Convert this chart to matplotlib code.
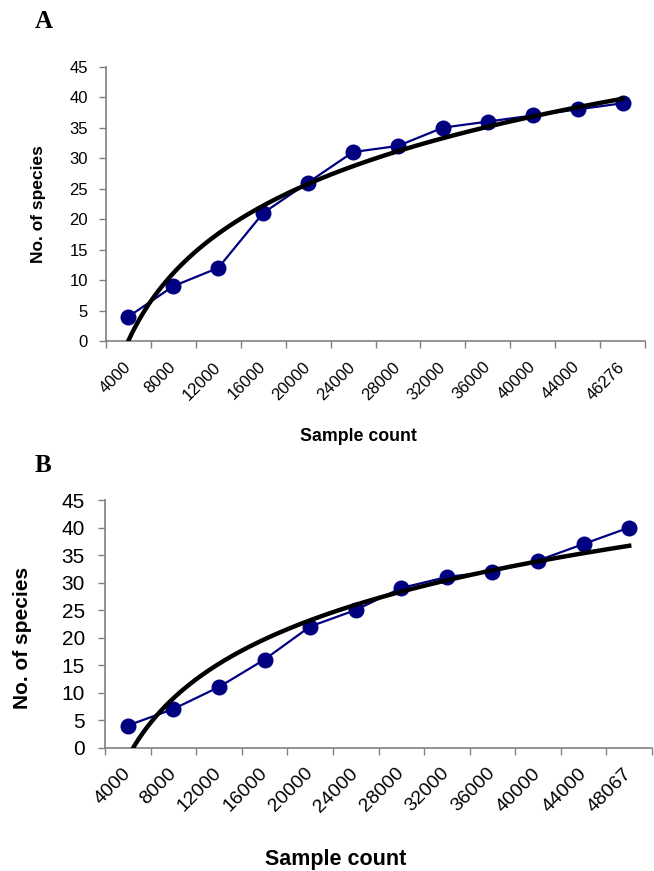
import numpy as np
import matplotlib
matplotlib.use('Agg')
import matplotlib.pyplot as plt

plt.rcParams['font.family'] = ['Liberation Sans', 'DejaVu Sans']

# sample counts (category labels) and species counts
labels_a = ['4000', '8000', '12000', '16000', '20000', '24000', '28000',
            '32000', '36000', '40000', '44000', '46276']
species_a = [4, 9, 12, 21, 26, 31, 32, 35, 36, 37, 38, 39]

labels_b = ['4000', '8000', '12000', '16000', '20000', '24000', '28000',
            '32000', '36000', '40000', '44000', '48067']
species_b = [4, 7, 11, 16, 22, 25, 29, 31, 32, 34, 37, 40]

W, H = 654, 871
fig = plt.figure(figsize=(W / 100, H / 100), dpi=100)


def px(x0, y0, x1, y1):
    # pixel box -> figure fraction rect
    return [x0 / W, 1 - y1 / H, (x1 - x0) / W, (y1 - y0) / H]


def panel(rect, labels, species, yfs, xfs, ypad, xpad):
    ax = fig.add_axes(rect)
    x = np.arange(1, len(species) + 1)
    ax.plot(x, species, color='#000080', lw=1.6, marker='o', ms=10.5,
            zorder=3)
    # Excel style logarithmic trend line
    a, b = np.polyfit(np.log(x), species, 1)
    xs = np.linspace(1, len(species), 400)
    ax.plot(xs, a * np.log(xs) + b, color='black', lw=3.2, zorder=4)

    ax.set_xlim(0.5, len(species) + 0.5)
    ax.set_ylim(0, 45)
    ax.set_yticks(range(0, 46, 5))
    ax.set_xticks(np.arange(0.5, len(species) + 1, 1))
    ax.set_xticklabels([])
    ax.set_xticks(x, minor=True)
    ax.set_xticklabels(labels, minor=True, rotation=45, ha='right',
                       va='center', rotation_mode='anchor')
    ax.tick_params(axis='x', which='minor', length=0, pad=xpad,
                   labelsize=xfs)
    ax.tick_params(axis='both', which='major', length=5, width=1,
                   color='#808080')
    ax.tick_params(axis='y', labelsize=yfs, pad=ypad)
    for s in ['top', 'right']:
        ax.spines[s].set_visible(False)
    for s in ['left', 'bottom']:
        ax.spines[s].set_color('#808080')
        ax.spines[s].set_linewidth(1.2)
    return ax


ax1 = panel(px(106, 66.7, 645, 341), labels_a, species_a, 12, 12, 8, 17)
ax2 = panel(px(105, 500, 652, 747.5), labels_b, species_b, 15, 14, 9.4, 16.8)

fig.text(35 / W, 1 - 22 / H, 'A', family='Liberation Serif',
         weight='bold', fontsize=18, va='center')
fig.text(35 / W, 1 - 465 / H, 'B', family='Liberation Serif',
         weight='bold', fontsize=18, va='center')

fig.text(38.5 / W, 1 - 204 / H, 'No. of species', rotation=90,
         weight='bold', fontsize=12.5, ha='center', va='center')
fig.text(22.5 / W, 1 - 638 / H, 'No. of species', rotation=90,
         weight='bold', fontsize=15, ha='center', va='center')

fig.text(358 / W, 1 - 441 / H, 'Sample count', weight='bold',
         fontsize=12.8, ha='center', va='baseline')
fig.text(336 / W, 1 - 865 / H, 'Sample count', weight='bold',
         fontsize=15.5, ha='center', va='baseline')

fig.savefig('out.png', dpi=100)
